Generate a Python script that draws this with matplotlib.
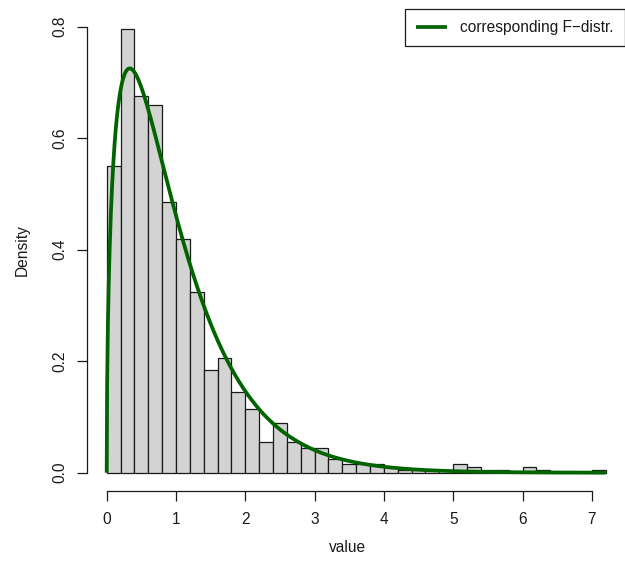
import math
import numpy as np
import matplotlib
matplotlib.use("Agg")
import matplotlib.pyplot as plt

# ---- data -------------------------------------------------------------
bin_edges = np.round(np.arange(0, 7.2001, 0.2), 1)          # 0.0 ... 7.2
densities = [0.550, 0.795, 0.675, 0.660, 0.485, 0.420, 0.325, 0.185,
             0.205, 0.145, 0.115, 0.055, 0.090, 0.055, 0.045, 0.045,
             0.025, 0.015, 0.015, 0.015, 0.010, 0.005, 0.005, 0.005,
             0.000, 0.015, 0.010, 0.005, 0.005, 0.000, 0.010, 0.005,
             0.000, 0.000, 0.000, 0.005]
df1 = 3
df2 = 500
x_ticks = [0, 1, 2, 3, 4, 5, 6, 7]
y_ticks = [0.0, 0.2, 0.4, 0.6, 0.8]
y_ticklabels = ["0.0", "0.2", "0.4", "0.6", "0.8"]
legend_label = "corresponding F\u2212distr."
x_label = "value"
y_label = "Density"


def f_pdf(x, d1, d2):
    x = np.asarray(x, dtype=float)
    lc = (math.lgamma((d1 + d2) / 2) - math.lgamma(d1 / 2) - math.lgamma(d2 / 2)
          + (d1 / 2) * math.log(d1 / d2))
    out = np.zeros_like(x)
    pos = x > 0
    out[pos] = np.exp(lc + (d1 / 2 - 1) * np.log(x[pos])
                      - ((d1 + d2) / 2) * np.log1p(d1 * x[pos] / d2))
    return out


# ---- figure -------------------------------------------------------------
W, H = 625, 566
plt.rcParams['font.family'] = ['Liberation Sans', 'DejaVu Sans']
fig = plt.figure(figsize=(W / 100, H / 100), dpi=100)

# plot region in pixels
px_left, px_right, px_top, px_bottom = 86.7, 625.0, 9.0, 490.5
ax = fig.add_axes([px_left / W, 1 - px_bottom / H,
                   (px_right - px_left) / W, (px_bottom - px_top) / H])

# data->pixel mapping
x0_px, x_scale = 106.7, 69.3
y0_px, y_scale = 472.7, 557.5
ax.set_xlim((px_left - x0_px) / x_scale, (px_right - x0_px) / x_scale)
ax.set_ylim((y0_px - px_bottom) / y_scale, (y0_px - px_top) / y_scale)

widths = np.diff(bin_edges)
ax.bar(bin_edges[:-1], densities, width=widths, align='edge',
       color='#D3D3D3', edgecolor='#1a1a1a', linewidth=0.9, zorder=2)

xs = np.linspace(0, 7.2, 1201)
ax.plot(xs, f_pdf(xs, df1, df2), color='#006400', lw=2.7, zorder=3,
        label=legend_label, solid_capstyle='butt')

for s in ['top', 'right']:
    ax.spines[s].set_visible(False)
ax.spines['left'].set_bounds(0, 0.8)
ax.spines['bottom'].set_bounds(0, 7)
for s in ['left', 'bottom']:
    ax.spines[s].set_linewidth(0.9)
    ax.spines[s].set_color('#1a1a1a')

ax.set_xticks(x_ticks)
ax.set_xticklabels([str(t) for t in x_ticks])
ax.set_yticks(y_ticks)
ax.set_yticklabels(y_ticklabels, rotation=90, va='center')
ax.tick_params(axis='both', length=7.2, width=0.9, color='#1a1a1a',
               labelsize=11.2, labelcolor='#1a1a1a')
ax.tick_params(axis='x', pad=8.5)
ax.tick_params(axis='y', pad=7.0)

fig.text(22 / W, 1 - 250 / H, y_label, rotation=90, ha='center', va='center',
         fontsize=11.2, color='#1a1a1a')
fig.text(348 / W, 1 - 548 / H, x_label, ha='center', va='center',
         fontsize=11.2, color='#1a1a1a')

leg = ax.legend(loc='upper right', bbox_to_anchor=(1.0, 1.0), borderaxespad=0,
                fancybox=False, framealpha=1, edgecolor='#1a1a1a',
                fontsize=11.2, handlelength=2.0, handletextpad=0.85,
                borderpad=0.72)
leg.get_frame().set_linewidth(0.9)
for t in leg.get_texts():
    t.set_color('#1a1a1a')

fig.savefig('out.png', dpi=100)
